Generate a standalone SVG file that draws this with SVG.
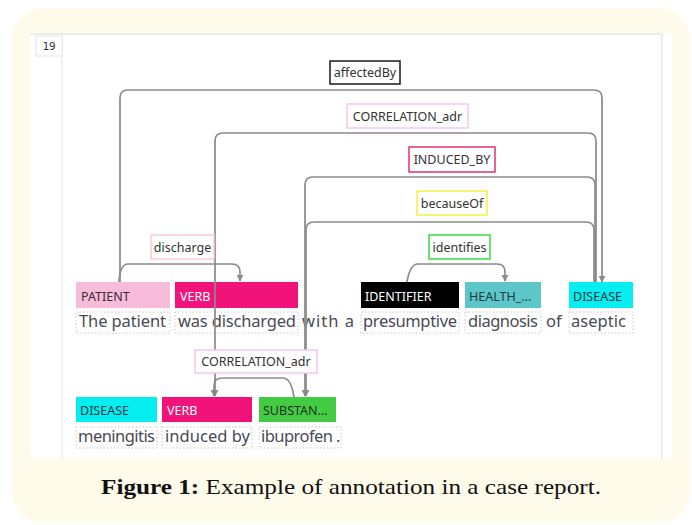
<svg xmlns="http://www.w3.org/2000/svg" width="692" height="525" viewBox="0 0 692 525">
<style>
.lbl{fill:#fff;stroke-width:1.5}
.lt{font-family:"Noto Sans","Liberation Sans",sans-serif;font-size:12.5px;fill:#333;text-anchor:middle}
.tl{font-family:"Noto Sans","Liberation Sans",sans-serif;font-size:12.5px}
.tok{font-family:"Noto Sans","Liberation Sans",sans-serif;font-size:16.5px;fill:#4a4a55}
.dot{fill:none;stroke:#c8c8c8;stroke-width:1;stroke-dasharray:1.5 2}
.con{fill:none;stroke:#8a8a8a;stroke-width:1.7}
</style>
<defs>
<marker id="arr" viewBox="0 0 10 10" refX="9" refY="5" markerWidth="7" markerHeight="7" markerUnits="userSpaceOnUse" orient="auto">
<path d="M0,0 L10,5 L0,10 z" fill="#8a8a8a"/>
</marker>
</defs>
<rect x="0" y="0" width="692" height="525" fill="#fff"/>
<rect x="12" y="8" width="678" height="515" rx="32" fill="#fefbea"/>
<rect x="30" y="33" width="642" height="426" fill="#fff"/>
<line x1="30" y1="34" x2="662" y2="34" stroke="#e6e6e6" stroke-width="1.5"/>
<line x1="662" y1="34" x2="662" y2="459" stroke="#e6e6e6" stroke-width="1.5"/>
<line x1="62" y1="36" x2="62" y2="459" stroke="#e8e8e8" stroke-width="1.2"/>
<g id="linenum">
<rect x="36" y="36" width="26" height="20" fill="#fff" stroke="#e4e4e4"/>
<text x="49" y="50" font-family="'DejaVu Sans Mono','Liberation Mono',monospace" font-size="11" fill="#333" text-anchor="middle">19</text>
</g>

<g id="tokens">
<g id="t-patient">
<rect x="76" y="282" width="94" height="26" fill="#f8bbd9"/>
<text class="tl" x="81" y="301" fill="#3a2a38">PATIENT</text>
<rect class="dot" x="76" y="312" width="94" height="21"/>
<text class="tok" x="79" y="327" textLength="87" lengthAdjust="spacing">The patient</text>
</g>
<g id="t-verb1">
<rect x="175" y="282" width="123" height="26" fill="#f2137a"/>
<text class="tl" x="180" y="301" fill="#fff">VERB</text>
<rect class="dot" x="175" y="312" width="123" height="21"/>
<text class="tok" x="178" y="327" textLength="118" lengthAdjust="spacing">was discharged</text>
</g>
<text class="tok" x="302" y="327" textLength="52" lengthAdjust="spacing">with a</text>
<g id="t-identifier">
<rect x="361" y="282" width="98" height="26" fill="#000"/>
<text class="tl" x="365" y="301" fill="#fff">IDENTIFIER</text>
<rect class="dot" x="361" y="312" width="98" height="21"/>
<text class="tok" x="363" y="327" textLength="94" lengthAdjust="spacing">presumptive</text>
</g>
<g id="t-health">
<rect x="465" y="282" width="76" height="26" fill="#5cc6c9"/>
<text class="tl" x="469" y="301" fill="#1f3a44">HEALTH_...</text>
<rect class="dot" x="465" y="312" width="76" height="21"/>
<text class="tok" x="468" y="327" textLength="70" lengthAdjust="spacing">diagnosis</text>
</g>
<text class="tok" x="546" y="327">of</text>
<g id="t-disease1">
<rect x="569" y="282" width="64" height="26" fill="#05eef0"/>
<text class="tl" x="573" y="301" fill="#1a3848">DISEASE</text>
<rect class="dot" x="569" y="312" width="64" height="21"/>
<text class="tok" x="571" y="327" textLength="55" lengthAdjust="spacing">aseptic</text>
</g>
<g id="t-disease2">
<rect x="76" y="397" width="81" height="25" fill="#05eef0"/>
<text class="tl" x="80" y="415" fill="#1a3848">DISEASE</text>
<rect class="dot" x="76" y="427" width="81" height="21"/>
<text class="tok" x="78" y="442" textLength="77" lengthAdjust="spacing">meningitis</text>
</g>
<g id="t-verb2">
<rect x="162" y="397" width="90" height="25" fill="#f2137a"/>
<text class="tl" x="167" y="415" fill="#fff">VERB</text>
<rect class="dot" x="162" y="427" width="90" height="21"/>
<text class="tok" x="165" y="442" textLength="85" lengthAdjust="spacing">induced by</text>
</g>
<g id="t-substance">
<rect x="259" y="397" width="77" height="25" fill="#43cc43"/>
<text class="tl" x="263" y="415" fill="#1f2f1f">SUBSTAN...</text>
<rect class="dot" x="259" y="427" width="82" height="21"/>
<text class="tok" x="261" y="442" textLength="72" lengthAdjust="spacing">ibuprofen</text>
<text class="tok" x="336" y="442">.</text>
</g>
</g>

<g id="connectors">
<path class="con" d="M120,282 V98 Q120,90 128,90 H594 Q602,90 602,98 V282" marker-end="url(#arr)"/>
<path class="con" d="M596,282 V141 Q596,133 588,133 H223 Q215,133 215,141 V396" marker-end="url(#arr)"/>
<path class="con" d="M595,282 V185 Q595,177 587,177 H313 Q305,177 305,185 V396" marker-end="url(#arr)"/>
<path class="con" d="M594,282 V230 Q594,222 586,222 H314 Q306,222 306,230 V396" marker-end="url(#arr)"/>
<path class="con" d="M119,282 Q120,264 128,264 H232 Q240,264 240,272 V281" marker-end="url(#arr)"/>
<path class="con" d="M407,282 Q410,264 418,264 H497 Q505,264 505,272 V281" marker-end="url(#arr)"/>
<path class="con" d="M294,397 Q291,378 283,378 H222 Q214,378 214,386 V396" marker-end="url(#arr)"/>
</g>

<g id="labels">
<g id="l-affectedBy">
<rect class="lbl" x="330" y="61" width="70" height="23" stroke="#1a1a1a" stroke-width="2"/>
<text class="lt" x="365" y="77">affectedBy</text>
</g>
<g id="l-corr1">
<rect class="lbl" x="347" y="104" width="121" height="24" stroke="#f4c8f0"/>
<text class="lt" x="407.5" y="120.5">CORRELATION_adr</text>
</g>
<g id="l-induced">
<rect class="lbl" x="409" y="147" width="86" height="25" stroke="#e2326f"/>
<text class="lt" x="452" y="164">INDUCED_BY</text>
</g>
<g id="l-because">
<rect class="lbl" x="417" y="191" width="70" height="24" stroke="#f2f040"/>
<text class="lt" x="452" y="207.5">becauseOf</text>
</g>
<g id="l-discharge">
<rect class="lbl" x="151" y="235" width="63" height="24" stroke="#f7ccdc"/>
<text class="lt" x="182.5" y="251.5">discharge</text>
</g>
<g id="l-identifies">
<rect class="lbl" x="429" y="235" width="61" height="24" stroke="#3dd63d"/>
<text class="lt" x="459.5" y="251.5">identifies</text>
</g>
<g id="l-corr2">
<rect class="lbl" x="195" y="350" width="122" height="23" stroke="#f4c8f0"/>
<text class="lt" x="256" y="366">CORRELATION_adr</text>
</g>
</g>

<text x="101" y="494" font-family="'Liberation Serif','DejaVu Serif',serif" font-size="21" fill="#111" textLength="500" lengthAdjust="spacingAndGlyphs"><tspan font-weight="bold">Figure 1:</tspan> Example of annotation in a case report.</text>
</svg>
